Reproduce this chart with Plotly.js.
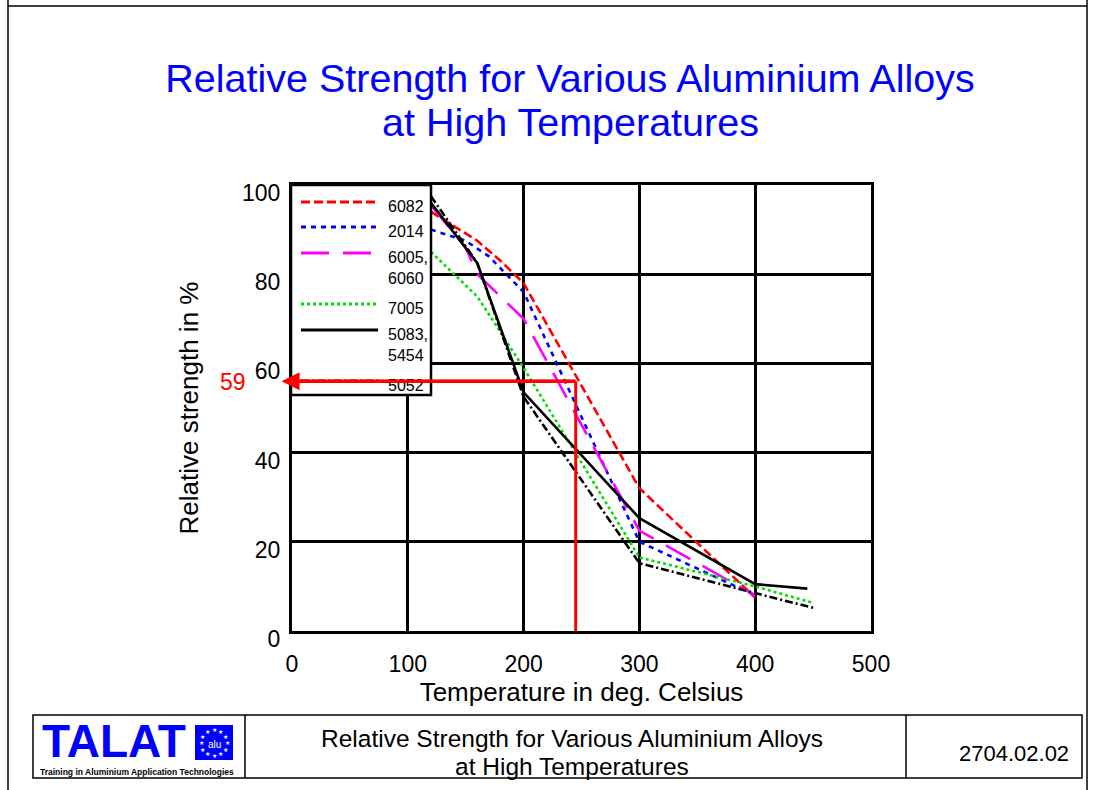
<!DOCTYPE html>
<html><head><meta charset="utf-8">
<script src="https://cdn.plot.ly/plotly-3.0.1.min.js"></script>
<style>html,body{margin:0;padding:0;background:#fff}#chart{width:1095px;height:790px}</style>
</head><body><div id="chart"></div>
<script>
// ---- data ----
const temps6082 = [120, 160, 180, 200, 300, 400];
const str6082   = [94, 87.5, 83, 78, 32, 7.5];
const temps2014 = [120, 150, 170, 200, 300, 400];
const str2014   = [90, 87.5, 84, 76, 20, 8];
const temps6005 = [120, 150, 160, 200, 300, 400];
const str6005   = [95.5, 86, 80, 70, 22.5, 8];
const temps7005 = [120, 160, 200, 300, 400, 450];
const str7005   = [85, 75, 59, 16.5, 10, 6.3];
const temps5083 = [120, 160, 200, 300, 400, 445];
const str5083   = [96, 82.5, 53.5, 25.3, 10.5, 9.5];
const temps5052 = [120, 160, 200, 300, 400, 450];
const str5052   = [97.5, 82.5, 52.5, 15.2, 8.5, 5.2];
const seriesNames = ["6082", "2014", "6005,<br>6060", "7005", "5083,<br>5454", "5052"];
const xTicks = [0, 100, 200, 300, 400, 500];
const yTicks = [0, 20, 40, 60, 80, 100];
const markTemp = 245, markStrength = 56, markLabel = "59";
const titleLines = ["Relative Strength for Various Aluminium Alloys", "at High Temperatures"];
const docNumber = "2704.02.02";

// ---- layout geometry (pixels) ----
const L = 292, R = 871, T = 185, B = 631;
const PX = p => (p - L) / (R - L);
const PY = p => (B - p) / (B - T);
const FONT = "Liberation Sans, Arial, sans-serif";

const styles = [
  {color: "#ff0000", dash: "9px,4px"},
  {color: "#0000ff", dash: "5px,5px"},
  {color: "#ff00ff", dash: "28px,14px"},
  {color: "#00e000", dash: "3px,3px"},
  {color: "#000000", dash: "solid"},
  {color: "#000000", dash: "8px,3px,2px,3px"}
];
const xs = [temps6082, temps2014, temps6005, temps7005, temps5083, temps5052];
const ys = [str6082, str2014, str6005, str7005, str5083, str5052];

const traces = xs.map((x, i) => ({
  x: x, y: ys[i], type: "scatter", mode: "lines",
  name: seriesNames[i].replace("<br>", " "),
  line: {color: styles[i].color, width: 2.6, dash: styles[i].dash},
  showlegend: false, hoverinfo: "skip"
}));

const shapes = [];
const annotations = [];
function txt(px, py, text, size, color, extra) {
  annotations.push(Object.assign({xref: "paper", yref: "paper", x: PX(px), y: PY(py), xanchor: "center", yanchor: "middle",
    text: text, showarrow: false, font: {family: FONT, size: size, color: color || "#000"}}, extra || {}));
}

// legend box
shapes.push({type: "rect", xref: "paper", yref: "paper", x0: PX(291), x1: PX(431), y0: PY(395), y1: PY(185),
  fillcolor: "#ffffff", line: {color: "#000", width: 2.5}, layer: "above"});
const legY = [202, 227, 253, 304, 330, 381];
seriesNames.forEach((n, i) => {
  shapes.push({type: "line", xref: "paper", yref: "paper", x0: PX(301), x1: PX(378), y0: PY(legY[i]), y1: PY(legY[i]),
    line: {color: styles[i].color, width: 3, dash: styles[i].dash}, layer: "above"});
  txt(386, legY[i] - 6, n, 16, "#000", {xanchor: "left", yanchor: "top", align: "left"});
});

// marker lines (red)
shapes.push({type: "line", xref: "x", yref: "y", x0: markTemp, x1: markTemp, y0: 0, y1: markStrength,
  line: {color: "#ff0000", width: 3}, layer: "above"});
shapes.push({type: "line", xref: "x", yref: "y", x0: 0, x1: markTemp, y0: markStrength, y1: markStrength,
  line: {color: "#ff0000", width: 3.5}, layer: "above"});
annotations.push({xref: "x", yref: "y", x: -9, y: markStrength, axref: "x", ayref: "y", ax: markTemp, ay: markStrength,
  text: "", showarrow: true, arrowhead: 2, arrowsize: 1.2, arrowwidth: 3, arrowcolor: "#ff0000", standoff: 0});
txt(233, 382, markLabel, 23, "#ff0000");

// title second line
txt(570, 122, titleLines[1], 39.5, "#0000ff");

// outer frame
shapes.push({type: "line", xref: "paper", yref: "paper", x0: PX(8), x1: PX(8), y0: PY(0), y1: PY(790), line: {color: "#000", width: 1.5}});
shapes.push({type: "line", xref: "paper", yref: "paper", x0: PX(1087), x1: PX(1087), y0: PY(0), y1: PY(790), line: {color: "#000", width: 1.5}});
shapes.push({type: "line", xref: "paper", yref: "paper", x0: PX(8), x1: PX(1087), y0: PY(6), y1: PY(6), line: {color: "#000", width: 1.5}});

// footer box
shapes.push({type: "rect", xref: "paper", yref: "paper", x0: PX(33), x1: PX(1082), y0: PY(778), y1: PY(715), line: {color: "#000", width: 1.5}});
shapes.push({type: "line", xref: "paper", yref: "paper", x0: PX(245), x1: PX(245), y0: PY(778), y1: PY(715), line: {color: "#000", width: 1.5}});
shapes.push({type: "line", xref: "paper", yref: "paper", x0: PX(906), x1: PX(906), y0: PY(778), y1: PY(715), line: {color: "#000", width: 1.5}});
// logo
shapes.push({type: "rect", xref: "paper", yref: "paper", x0: PX(195), x1: PX(233), y0: PY(760), y1: PY(725), fillcolor: "#0000ff", line: {width: 0}});
txt(114, 741, "<b>TALAT</b>", 46, "#0000ff");
txt(214, 744, "alu", 10, "#ffffff");
for (let k = 0; k < 12; k++) {
  const a = k * Math.PI / 6;
  annotations.push({xref: "paper", yref: "paper", x: PX(214 + 13 * Math.cos(a)), y: PY(742.5 + 13 * Math.sin(a)),
    xanchor: "center", yanchor: "middle", text: "★", showarrow: false, font: {family: "DejaVu Sans", size: 6, color: "#ffffff"}});
}
txt(137, 772, "<b>Training in Aluminium Application Technologies</b>", 8.5, "#000");
txt(572, 738, titleLines[0], 24.5, "#000");
txt(572, 766, titleLines[1], 24.5, "#000");
txt(1014, 753, docNumber, 22, "#000");

const layout = {
  width: 1095, height: 790,
  margin: {l: L, r: 1095 - R, t: T, b: 790 - B},
  paper_bgcolor: "#fff", plot_bgcolor: "#fff",
  font: {family: FONT, color: "#000"},
  title: {text: titleLines[0], font: {family: FONT, size: 39.5, color: "#0000ff"},
    x: 570 / 1095, xanchor: "center", y: 1 - 78 / 790, yanchor: "middle"},
  xaxis: {range: [0, 500], tickvals: xTicks, ticktext: xTicks.map(String), showgrid: true, gridcolor: "#000", gridwidth: 3,
    showline: true, mirror: true, linecolor: "#000", linewidth: 3, zeroline: false, ticks: "", ticklabelstandoff: 10,
    tickfont: {family: FONT, size: 23}, fixedrange: true,
    title: {text: "Temperature in deg. Celsius", font: {family: FONT, size: 26}, standoff: 4}},
  yaxis: {range: [0, 100], tickvals: yTicks, ticktext: yTicks.map(String), showgrid: true, gridcolor: "#000", gridwidth: 3,
    showline: true, mirror: true, linecolor: "#000", linewidth: 3, zeroline: false, ticks: "", ticklabelstandoff: 4,
    ticklabelshift: 8, tickfont: {family: FONT, size: 23}, fixedrange: true,
    title: {text: "Relative strength in %", font: {family: FONT, size: 26}, standoff: 36}},
  shapes: shapes, annotations: annotations, showlegend: false
};
Plotly.newPlot("chart", traces, layout, {displayModeBar: false, staticPlot: true});
</script></body></html>
